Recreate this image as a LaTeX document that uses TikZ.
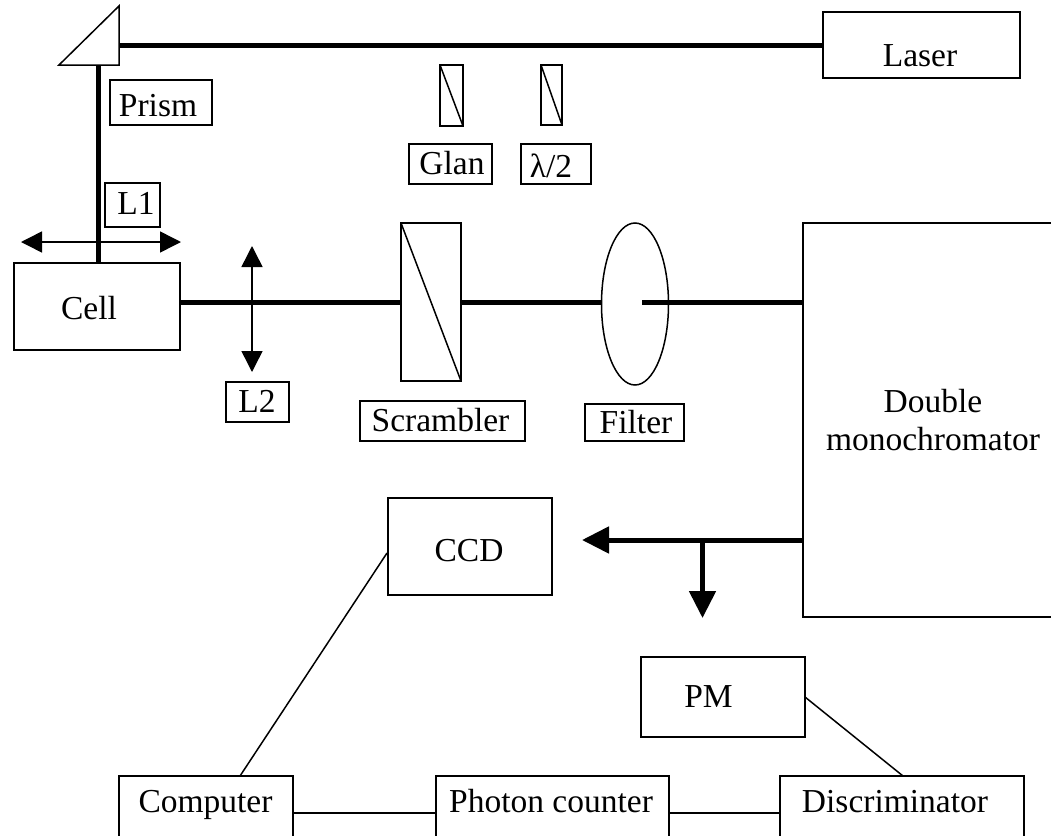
\documentclass[tikz,border=0pt]{standalone}
\usepackage{fontspec}
\setmainfont{Liberation Serif}
\usetikzlibrary{arrows.meta,shapes.geometric}
\tikzset{
  thinline/.style={draw=black,line width=1.5pt},
  beam/.style={draw=black,line width=5pt},
  boxshape/.style={thinline,rectangle,inner sep=0pt,outer sep=0pt},
  txt/.style={font=\fontsize{33.5}{33.5}\selectfont,inner sep=0pt,anchor=base},
  bigtip/.style={-{Triangle[length=27pt,width=26pt]}},
  smalltip/.style={{Triangle[length=21pt,width=21pt]}-{Triangle[length=21pt,width=21pt]}}
}
% name, x0, y0, x1, y1
\newcommand{\boxat}[5]{\path (#2,#3) coordinate (#1-a) (#4,#5) coordinate (#1-b);
  \pgfmathsetmacro{\bw}{abs(#4-#2)}\pgfmathsetmacro{\bh}{abs(#5-#3)}
  \node[boxshape,minimum width=\bw pt,minimum height=\bh pt] (#1) at ({(#2+#4)/2},{(#3+#5)/2}) {};}
\begin{document}
\begin{tikzpicture}[x=1pt,y=-1pt]
\useasboundingbox (0,0) rectangle (1051,835);
\clip (0,0) rectangle (1051,835);
% boxes
\boxat{laser}{823}{12}{1020}{78}
\boxat{prismlab}{110}{80}{212}{125}
\boxat{lonelab}{105}{183}{160}{227}
\boxat{cell}{14}{263}{180}{350}
\boxat{ltwolab}{226}{382}{289}{422}
\boxat{scr}{401}{223}{461}{381}
\boxat{scrlab}{360}{401}{525}{441}
\boxat{fltlab}{585}{404}{684}{441}
\boxat{glan}{440}{65}{463}{126}
\boxat{hwp}{541}{65}{562}{125}
\boxat{glanlab}{409}{144}{492}{184}
\boxat{hwplab}{521}{144}{591}{184}
\boxat{mono}{803}{223}{1070}{617}
\boxat{ccd}{388}{498}{552}{595}
\boxat{pm}{641}{657}{805}{737}
\boxat{comp}{119}{776}{293}{850}
\boxat{phot}{436}{776}{669}{850}
\boxat{disc}{780}{776}{1024}{850}
% prism
\coordinate (pa) at (59,65);
\coordinate (pb) at (119,6);
\coordinate (pc) at (119,65);
\draw[thinline,line join=miter] (pa) -- (pb) -- (pc) -- cycle;
% filter
\node[thinline,ellipse,minimum width=67pt,minimum height=162pt,inner sep=0pt,outer sep=0pt] (flt) at (635,304) {};
% prism diagonals
\draw[thinline] (glan.north west) -- (glan.south east);
\draw[thinline] (hwp.north west) -- (hwp.south east);
\draw[thinline] (scr.north west) -- (scr.south east);
% beams
\coordinate (laserin) at (823,45);
\coordinate (prismout) at (119,45);
\draw[beam] (laserin) -- (prismout);
\coordinate (ptop) at (98.5,65);
\coordinate (ctop) at (98.5,263);
\draw[beam] (ptop) -- (ctop);
\coordinate (cr) at (180,302);
\coordinate (sl) at (401,302);
\coordinate (sr) at (461,302);
\coordinate (fl) at (601,302);
\coordinate (fm) at (642,302);
\coordinate (mi) at (803,302);
\draw[beam] (cr) -- (sl);
\draw[beam] (sr) -- (fl);
\draw[beam] (fm) -- (mi);
% lenses
\coordinate (lone-l) at (21,242);
\coordinate (lone-r) at (181,242);
\draw[thinline,smalltip] (lone-l) -- (lone-r);
\coordinate (ltwo-t) at (252,246);
\coordinate (ltwo-b) at (252,372);
\draw[thinline,smalltip] (ltwo-t) -- (ltwo-b);
% output arrows
\coordinate (mo) at (803,540);
\coordinate (ah) at (582,540);
\coordinate (br) at (702.5,540);
\coordinate (ad) at (702.5,618);
\draw[beam,bigtip] (mo) -- (ah);
\draw[beam,bigtip] (br) -- (ad);
% signal lines
\coordinate (ccdp) at (387,553);
\coordinate (compp) at (240,776);
\draw[thinline] (ccdp) -- (compp);
\coordinate (pmp) at (805,697);
\coordinate (discp) at (903,776);
\draw[thinline] (pmp) -- (discp);
\coordinate (c1) at (293,813);
\coordinate (c2) at (436,813);
\coordinate (c3) at (669,813);
\coordinate (c4) at (780,813);
\draw[thinline] (c1) -- (c2);
\draw[thinline] (c3) -- (c4);
% labels
\node[txt] (t1) at (920,66) {Laser};
\node[txt] (t2) at (158,116) {Prism};
\node[txt] (t3) at (136,214) {L1};
\node[txt] (t4) at (89,319) {Cell};
\node[txt] (t5) at (257,412) {L2};
\node[txt] (t6) at (440.5,431) {Scrambler};
\node[txt] (t7) at (636,433) {Filter};
\node[txt] (t8) at (452,174) {Glan};
\node[txt] (t9) at (551,177) {λ/2};
\node[txt] (t10) at (933,412) {Double};
\node[txt] (t11) at (933,450) {monochromator};
\node[txt] (t12) at (469,561) {CCD};
\node[txt] (t13) at (708.5,707) {PM};
\node[txt] (t14) at (205.5,812) {Computer};
\node[txt] (t15) at (551,812) {Photon counter};
\node[txt] (t16) at (895,812) {Discriminator};
\end{tikzpicture}
\end{document}
